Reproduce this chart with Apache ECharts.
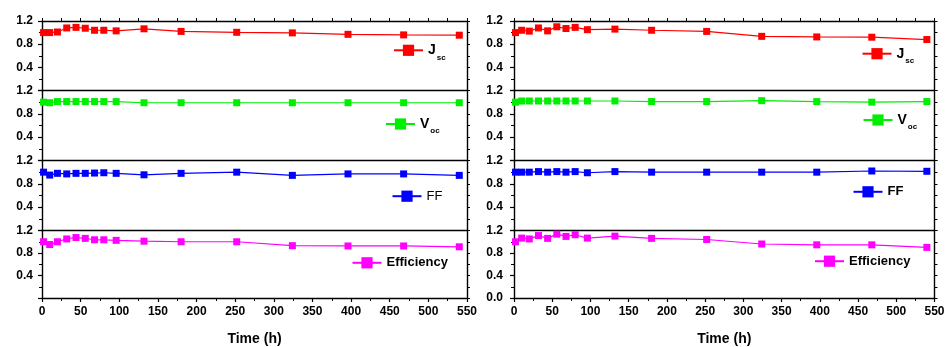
<!DOCTYPE html>
<html>
<head>
<meta charset="utf-8">
<script src="https://cdn.jsdelivr.net/npm/echarts@6/dist/echarts.min.js"></script>
<style>html,body{margin:0;padding:0;background:#fff;}#c{width:949px;height:347px;}</style>
</head>
<body>
<div id="c"></div>
<script>
// ---- data ----
const timeHours = [2, 10, 20, 32, 44, 56, 68, 80, 96, 132, 180, 252, 324, 396, 468, 540];
const xTicks = [0, 50, 100, 150, 200, 250, 300, 350, 400, 450, 500, 550];
const yTicks = [0.0, 0.4, 0.8, 1.2];

const leftJsc = [1.00, 1.00, 1.01, 1.08, 1.09, 1.075, 1.04, 1.04, 1.03, 1.065, 1.02, 1.005, 0.995, 0.97, 0.96, 0.955];
const leftVoc = [1.00, 0.99, 1.01, 1.01, 1.01, 1.01, 1.01, 1.01, 1.01, 0.99, 0.99, 0.99, 0.99, 0.99, 0.99, 0.99];
const leftFF  = [1.00, 0.95, 0.98, 0.97, 0.98, 0.98, 0.985, 0.99, 0.98, 0.955, 0.98, 1.00, 0.945, 0.97, 0.97, 0.945];
const leftEff = [1.00, 0.95, 1.00, 1.05, 1.075, 1.06, 1.035, 1.035, 1.025, 1.01, 1.00, 1.00, 0.93, 0.925, 0.925, 0.91];

const rightJsc = [1.00, 1.04, 1.025, 1.08, 1.03, 1.10, 1.07, 1.09, 1.05, 1.06, 1.04, 1.02, 0.935, 0.925, 0.92, 0.88];
const rightVoc = [1.00, 1.02, 1.02, 1.02, 1.02, 1.02, 1.02, 1.02, 1.02, 1.02, 1.01, 1.01, 1.025, 1.01, 1.00, 1.01];
const rightFF  = [1.00, 1.00, 1.00, 1.01, 1.00, 1.01, 1.00, 1.01, 0.99, 1.01, 1.00, 1.00, 1.00, 1.00, 1.02, 1.015];
const rightEff = [1.00, 1.065, 1.05, 1.11, 1.06, 1.135, 1.095, 1.125, 1.065, 1.10, 1.06, 1.04, 0.96, 0.945, 0.945, 0.90];

const seriesLabels = ['Jsc', 'Voc', 'FF', 'Efficiency'];
const seriesColors = ['#ff0000', '#00ee00', '#0000ff', '#ff00ff'];
const panels = [[leftJsc, leftVoc, leftFF, leftEff], [rightJsc, rightVoc, rightFF, rightEff]];

// ---- layout ----
const FONT = '"Liberation Sans", Arial, sans-serif';
const panelLeft = [42, 514];
const panelWidth = [425, 420.5];
const rowTop = [21, 90.5, 160.5, 230.5];
const rowHeight = [69.5, 70, 70, 68];
// legend placement: [left, centerY]
const legendPos = [
  [[393, 54.3], [385, 128], [391.5, 196.7], [351.5, 263.3]],
  [[861.5, 57.7], [862.5, 124], [852.5, 192.3], [814, 261.7]]
];

const grids = [], xAxes = [], yAxes = [], series = [], legends = [];
const axisLineStyle = { color: '#000', width: 1.4 };

for (let p = 0; p < 2; p++) {
  for (let r = 0; r < 4; r++) {
    const g = grids.length;
    grids.push({ left: panelLeft[p], top: rowTop[r], width: panelWidth[p], height: rowHeight[r] });
    const isBottom = r === 3;
    // bottom x axis
    const xi = xAxes.length;
    xAxes.push({
      type: 'value', gridIndex: g, position: 'bottom', min: xTicks[0], max: xTicks[xTicks.length - 1], interval: 50,
      axisLine: { show: true, onZero: false, lineStyle: axisLineStyle },
      axisTick: { show: isBottom, inside: false, length: 4, lineStyle: { color: '#000', width: 1.2 } },
      minorTick: { show: isBottom, splitNumber: 2, length: 3, lineStyle: { color: '#000', width: 1 } },
      splitLine: { show: false },
      axisLabel: { show: isBottom, margin: 8, color: '#000', fontSize: 12, fontWeight: 'bold', fontFamily: FONT },
      name: isBottom ? 'Time (h)' : '', nameLocation: 'middle', nameGap: 34,
      nameTextStyle: { color: '#000', fontSize: 14, fontWeight: 'bold', fontFamily: FONT }
    });
    if (r === 0) {
      xAxes.push({
        type: 'value', gridIndex: g, position: 'top', min: xTicks[0], max: xTicks[xTicks.length - 1], interval: 50,
        axisLine: { show: true, onZero: false, lineStyle: axisLineStyle },
        axisTick: { show: true, inside: false, length: 3, lineStyle: { color: '#000', width: 1 } },
        minorTick: { show: true, splitNumber: 2, length: 3, lineStyle: { color: '#000', width: 1 } },
        splitLine: { show: false }, axisLabel: { show: false }
      });
    }
    const showZero = (p === 1 && isBottom);
    const yi = yAxes.length;
    yAxes.push({
      type: 'value', gridIndex: g, position: 'left', min: yTicks[0], max: yTicks[yTicks.length - 1], interval: 0.4,
      axisLine: { show: true, onZero: false, lineStyle: axisLineStyle },
      axisTick: { show: true, inside: false, length: 4, lineStyle: { color: '#000', width: 1.2 } },
      minorTick: { show: true, splitNumber: 2, length: 3, lineStyle: { color: '#000', width: 1 } },
      splitLine: { show: false },
      axisLabel: {
        margin: p === 0 ? 9 : 11, color: '#000', fontSize: 12, fontWeight: 'bold', fontFamily: FONT,
        formatter: v => (Math.abs(v) < 1e-9 && !showZero) ? '' : v.toFixed(1)
      }
    });
    yAxes.push({
      type: 'value', gridIndex: g, position: 'right', min: yTicks[0], max: yTicks[yTicks.length - 1], interval: 0.4,
      axisLine: { show: true, onZero: false, lineStyle: axisLineStyle },
      axisTick: { show: true, inside: false, length: 3, lineStyle: { color: '#000', width: 1 } },
      minorTick: { show: true, splitNumber: 2, length: 3, lineStyle: { color: '#000', width: 1 } },
      splitLine: { show: false }, axisLabel: { show: false }
    });
    const name = (p === 0 ? 'L_' : 'R_') + seriesLabels[r];
    const vals = panels[p][r];
    series.push({
      name: name, type: 'line', xAxisIndex: xi, yAxisIndex: yi,
      data: timeHours.map((t, k) => [t, vals[k]]),
      symbol: 'rect', symbolSize: 7,
      itemStyle: { color: seriesColors[r] },
      lineStyle: { color: seriesColors[r], width: 1.2 },
      emphasis: { disabled: true }, silent: true
    });
    const lab = seriesLabels[r];
    const isSub = (lab === 'Jsc' || lab === 'Voc');
    const bold = !(p === 0 && lab === 'FF');
    const itemH = 14;
    const boxH = isSub ? 22 : 14;
    legends.push({
      data: [name], orient: 'horizontal', selectedMode: false, padding: 0,
      left: legendPos[p][r][0], top: legendPos[p][r][1] - boxH / 2,
      itemWidth: 29, itemHeight: itemH,
      formatter: () => isSub ? '{m|' + lab[0] + '}{s|' + lab.slice(1) + '}' : lab,
      textStyle: {
        color: '#000', fontSize: 13, fontWeight: bold ? 'bold' : 'normal', fontFamily: FONT,
        rich: {
          m: { fontSize: 14, fontWeight: 'bold', fontFamily: FONT, color: '#000' },
          s: { fontSize: 8, fontWeight: 'bold', fontFamily: FONT, color: '#000', padding: [14, 0, 0, 1] }
        }
      }
    });
  }
}

const chart = echarts.init(document.getElementById('c'), null, { renderer: 'canvas' });
chart.setOption({
  animation: false,
  backgroundColor: '#ffffff',
  grid: grids, xAxis: xAxes, yAxis: yAxes, series: series, legend: legends
});
</script>
</body>
</html>
